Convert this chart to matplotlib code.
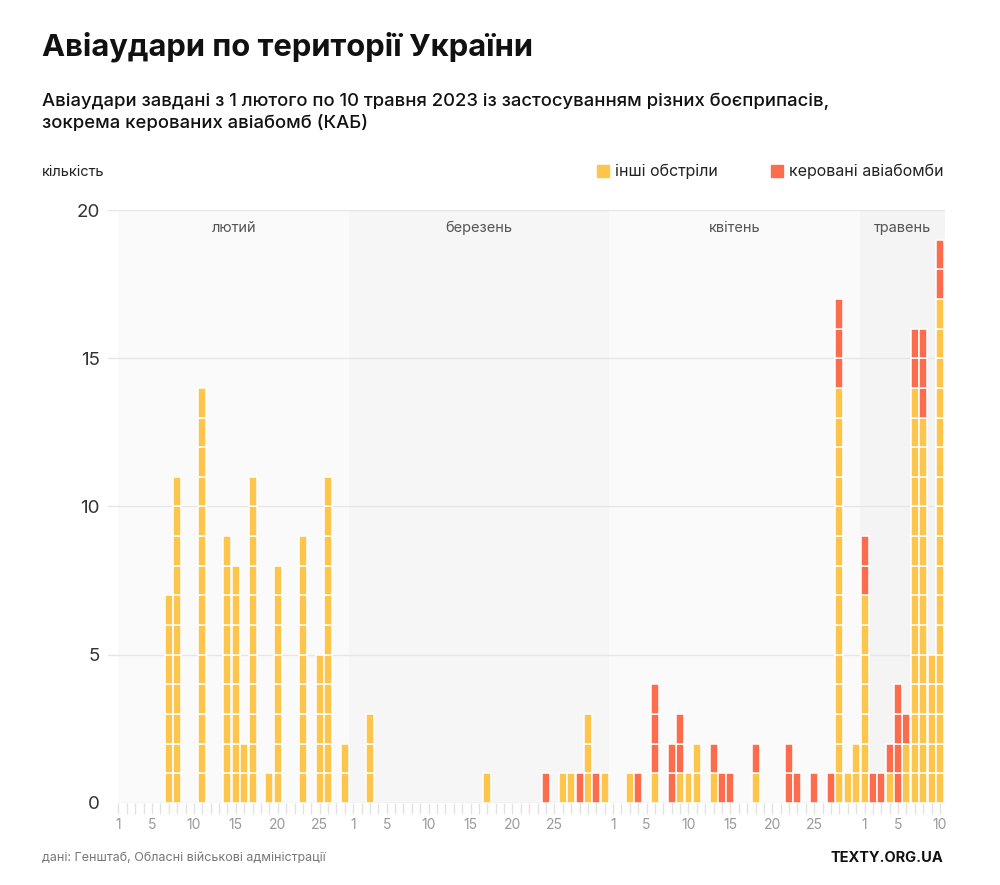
import numpy as np
import matplotlib.pyplot as plt

# days per month shown on the chart (1 Feb - 10 May 2023)
months = ['лютий', 'березень', 'квітень', 'травень']
month_days = [28, 31, 30, 10]
tick_days = [[1, 5, 10, 15, 20, 25], [1, 5, 10, 15, 20, 25],
             [1, 5, 10, 15, 20, 25], [1, 5, 10]]

# strikes per day: {day: count}
other_feb = {7: 7, 8: 11, 11: 14, 14: 9, 15: 8, 16: 2, 17: 11, 19: 1, 20: 8,
             23: 9, 25: 5, 26: 11, 28: 2}
other_mar = {3: 3, 17: 1, 26: 1, 27: 1, 29: 3, 31: 1}
other_apr = {3: 1, 6: 1, 9: 1, 10: 1, 11: 2, 13: 1, 18: 1, 28: 14, 29: 1, 30: 2}
other_may = {1: 7, 4: 1, 6: 2, 7: 14, 8: 13, 9: 5, 10: 17}

kab_feb = {}
kab_mar = {24: 1, 28: 1, 30: 1}
kab_apr = {4: 1, 6: 3, 8: 2, 9: 2, 13: 1, 14: 1, 15: 1, 18: 1, 22: 2, 23: 1,
           25: 1, 27: 1, 28: 3}
kab_may = {1: 2, 2: 1, 3: 1, 4: 1, 5: 4, 6: 1, 7: 2, 8: 3, 10: 2}

YELLOW = '#fec54c'
RED = '#fd6c4d'
FONT = ['Inter', 'DejaVu Sans']


def to_series(parts):
    """ Join the month dicts into one array of daily values """
    out = []
    for d, n in zip(parts, month_days):
        out += [d.get(i, 0) for i in range(1, n + 1)]
    return np.array(out)


def draw_units(ax, x, values, bottom, color):
    """ Draw stacked one-unit blocks for every day """
    for k in range(values.max()):
        mask = values > k
        ax.bar(x[mask], np.ones(mask.sum()), bottom=bottom[mask] + k,
               width=0.95, color=color, edgecolor='white', linewidth=1.1,
               zorder=3)


def main():
    plt.rcParams['font.family'] = FONT
    other = to_series([other_feb, other_mar, other_apr, other_may])
    kab = to_series([kab_feb, kab_mar, kab_apr, kab_may])
    x = np.arange(len(other))

    fig = plt.figure(figsize=(10, 8.85), dpi=100)
    ax = fig.add_axes([0.108, 0.0927, 0.837, 0.670])
    xmax = 98.6

    # month bands
    edges = np.concatenate([[0], np.cumsum(month_days)[:-1] - 0.5, [xmax]])
    bands = ['#fafafa', '#f6f6f6', '#fafafa', '#f4f4f4']
    for i, (name, c) in enumerate(zip(months, bands)):
        ax.axvspan(edges[i], edges[i + 1], color=c, zorder=0, lw=0)
        ax.text((edges[i] + edges[i + 1]) / 2, 19.4, name, ha='center',
                va='center', fontsize=10.5, color='#555555')

    draw_units(ax, x, other, np.zeros_like(other), YELLOW)
    draw_units(ax, x, kab, other, RED)

    ax.set_xlim(-1.25, xmax)
    ax.set_ylim(0, 20)
    ax.set_yticks([0, 5, 10, 15, 20])
    ax.grid(axis='y', color='#e6e6e6', lw=1, zorder=1)
    ax.tick_params(axis='y', length=0, pad=6, labelsize=13.5,
                   labelcolor='#333333')
    for s in ax.spines.values():
        s.set_visible(False)

    # day ticks
    ticks, labels = [], []
    offset = 0
    for n, days in zip(month_days, tick_days):
        for d in days:
            ticks.append(offset + d - 1)
            labels.append(str(d))
        offset += n
    ax.set_xticks(ticks, labels)
    ax.set_xticks(x, minor=True)
    ax.tick_params(axis='x', which='both', length=8, color='#e2e2e2',
                   width=1, labelsize=10, labelcolor='#999999', pad=3)

    # header
    fig.text(0.042, 0.947, 'Авіаудари по території України', fontsize=22.3,
             fontweight='bold', va='center', color='#111111')
    fig.text(0.042, 0.886, 'Авіаудари завдані з 1 лютого по 10 травня 2023 '
             'із застосуванням різних боєприпасів,', fontsize=13.3,
             fontweight='medium', va='center', color='#111111')
    fig.text(0.042, 0.860, 'зокрема керованих авіабомб (КАБ)', fontsize=13.3,
             fontweight='medium', va='center', color='#111111')
    fig.text(0.042, 0.806, 'кількість', fontsize=10.5, va='center',
             color='#222222')

    # legend
    for xs, c, t in [(0.597, YELLOW, 'інші обстріли'),
                     (0.771, RED, 'керовані авіабомби')]:
        fig.patches.append(plt.Rectangle((xs, 0.7995), 0.012, 0.0135,
                                         transform=fig.transFigure,
                                         color=c))
        fig.text(xs + 0.018, 0.806, t, fontsize=11.5, va='center',
                 color='#222222')

    # footer
    fig.text(0.042, 0.030, 'дані: Генштаб, Обласні військові адміністрації',
             fontsize=9, va='center', color='#777777')
    fig.text(0.943, 0.030, 'TEXTY.ORG.UA', fontsize=10.5, fontweight='bold',
             ha='right', va='center', color='#111111')

    fig.savefig('out.png', dpi=100)


if __name__ == '__main__':
    main()
